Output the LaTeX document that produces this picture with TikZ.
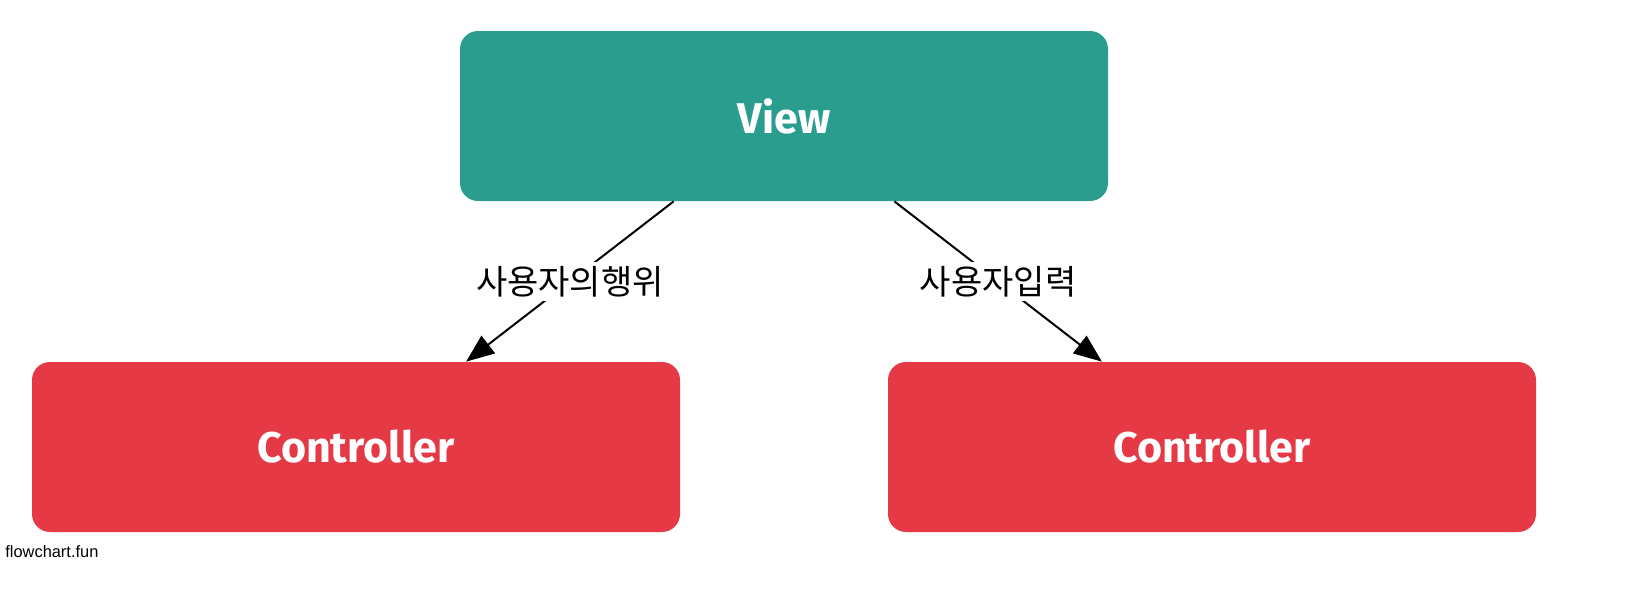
\documentclass[tikz,border=0pt]{standalone}
\usepackage{fontspec}
\setmainfont{Fira Sans}
\newfontfamily\kor{Noto Sans CJK KR}
\newfontfamily\credit{Liberation Sans}
\usetikzlibrary{arrows.meta}
\definecolor{viewteal}{HTML}{2A9D8F}
\definecolor{ctrlred}{HTML}{E63946}
\begin{document}
\begin{tikzpicture}[x=0.5pt, y=-0.5pt,
    box/.style={rectangle, rounded corners=9pt, minimum width=324pt, minimum height=85pt, text=white, font=\fontsize{21.5}{26}\selectfont\bfseries},
    lbl/.style={fill=white, inner sep=2pt, font=\kor\fontsize{17}{20}\selectfont},
    every edge/.style={draw, line width=1pt, -{Triangle[length=14pt, width=11pt]}}]
  \useasboundingbox (0,0) rectangle (1631,589);
  \node (view) at (784,116) [box, fill=viewteal] {View};
  \node (ctrlA) at (356,447) [box, fill=ctrlred] {Controller};
  \node (ctrlB) at (1212,447) [box, fill=ctrlred] {Controller};
  \foreach \source/\dest/\txt in {view/ctrlA/사용자의행위, view/ctrlB/사용자입력}
    \path (\source) edge node[lbl] {\txt} (\dest);
  \node (brand) at (5,552) [anchor=west, inner sep=0pt, font=\credit\fontsize{8.2}{10}\selectfont] {flowchart.fun};
\end{tikzpicture}
\end{document}
